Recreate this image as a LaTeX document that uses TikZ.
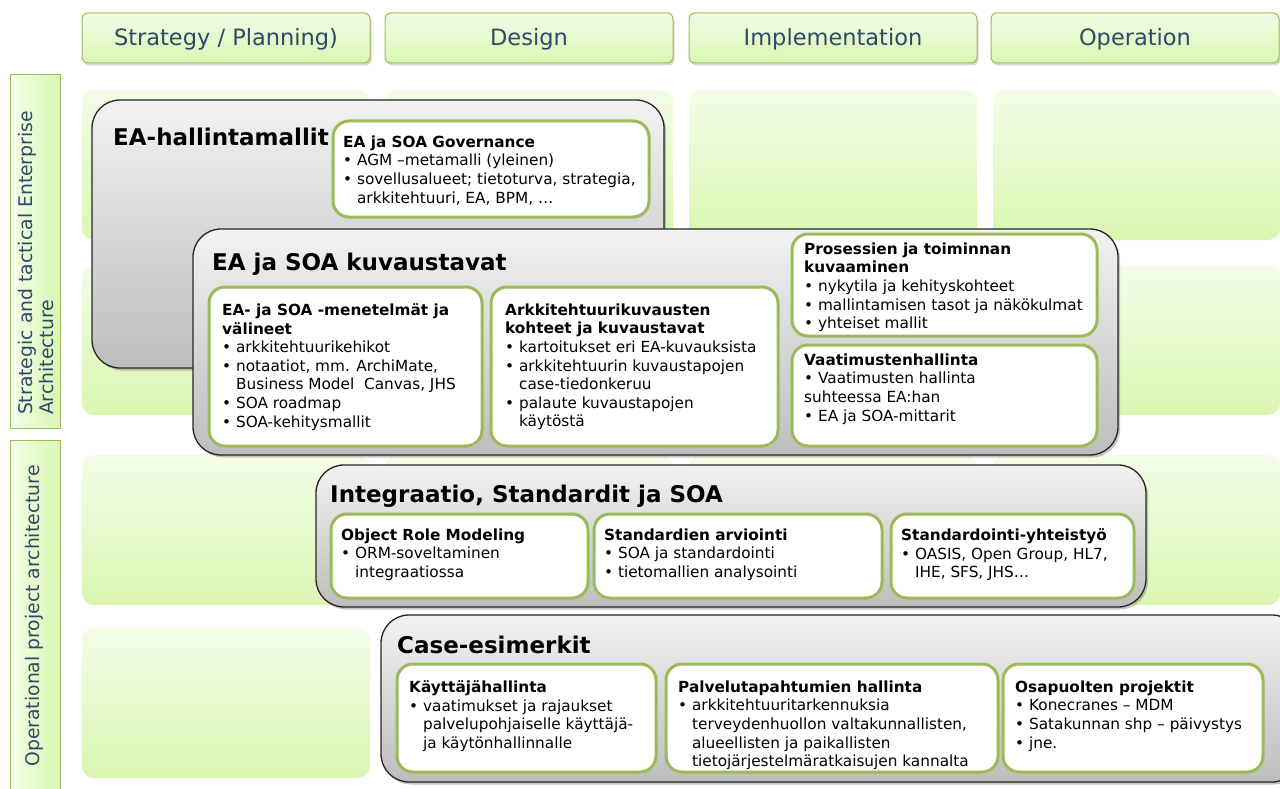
\documentclass[tikz,border=0pt]{standalone}
\usepackage{fontspec}
\setmainfont{DejaVu Sans}
\usetikzlibrary{shadows}
\definecolor{headblue}{HTML}{2F4A68}
\definecolor{leafgreen}{HTML}{9BBB59}
\definecolor{cellhi}{HTML}{F3FDE8}
\definecolor{celllo}{HTML}{D9F6B0}
\definecolor{greyhi}{HTML}{F2F2F2}
\definecolor{greylo}{HTML}{BDBDBD}
\begin{document}
\begin{tikzpicture}[x=1pt,y=-1pt,
  head/.style={draw=leafgreen,line width=1pt,rounded corners=6pt,top color=cellhi,bottom color=celllo,
    drop shadow={shadow xshift=1.5pt,shadow yshift=-2.5pt,opacity=.3},
    minimum width=288pt,minimum height=50pt,text=headblue,text height=17pt,text depth=2pt,
    font=\fontsize{22.5}{26}\selectfont},
  cell/.style={rounded corners=12pt,top color=cellhi,bottom color=celllo},
  side/.style={draw=leafgreen,line width=1pt,left color=cellhi,right color=celllo},
  sidetext/.style={rotate=90,align=left,text=headblue,inner sep=0pt,font=\fontsize{18.8}{21}\selectfont},
  greybox/.style={draw=black!85,line width=1.3pt,rounded corners=28pt,top color=greyhi,bottom color=greylo,
    drop shadow={shadow xshift=2pt,shadow yshift=-2.5pt,opacity=.45}},
  whitebox/.style={draw=leafgreen,line width=3pt,rounded corners=16pt,fill=white},
  bigtitle/.style={anchor=base west,inner sep=0pt,font=\bfseries\fontsize{23}{27}\selectfont},
  boxtext/.style={anchor=north west,inner sep=0pt,align=left,font=\fontsize{15.3}{18.6}\selectfont}]
\useasboundingbox (0,0) rectangle (1280,789);

% phase heads
\node[head] (strat) at (226,38) {Strategy / Planning)};
\node[head] (design) at (529,38) {Design};
\node[head] (impl) at (833,38) {Implementation};
\node[head] (oper) at (1135,38) {Operation};

% row labels
\path[side] (10,75) rectangle (60,428);
\node[sidetext] (strategic) at (36,263) {Strategic and tactical Enterprise\\Architecture};
\path[side] (10,440) rectangle (60,800);
\node[sidetext] (operational) at (34,616) {Operational project architecture};

% background cells
\foreach \xa/\xb in {82/370,385/673,689/977,993/1280}
  \foreach \ya/\yb in {90/240,265/415,455/605,628/778}
    \path[cell] (\xa,\ya) rectangle (\xb,\yb);

% EA-hallintamallit
\path[greybox] (92,100) rectangle (664,368);
\node[bigtitle] (hallinta) at (113,146) {EA-hallintamallit};
\path[whitebox] (333,121) rectangle (649,217);
\node[boxtext] (govtxt) at (343,135.5) {\textbf{EA ja SOA Governance}\\
• AGM –metamalli (yleinen)\\
• sovellusalueet; tietoturva, strategia,\\
\phantom{• }arkkitehtuuri, EA, BPM, …};

% EA ja SOA kuvaustavat
\path[greybox] (193,229) rectangle (1118,455);
\node[bigtitle] (kuvaus) at (212,270) {EA ja SOA kuvaustavat};
\path[whitebox] (209,287) rectangle (482,446);
\node[boxtext] (mentxt) at (222,303.5) {\textbf{EA- ja SOA -menetelmät ja}\\
\textbf{välineet}\\
• arkkitehtuurikehikot\\
• notaatiot, mm. ArchiMate,\\
\phantom{• }Business Model\ \ Canvas, JHS\\
• SOA roadmap\\
• SOA-kehitysmallit};
\path[whitebox] (491,287) rectangle (778,446);
\node[boxtext] (arktxt) at (505,303.5) {\textbf{Arkkitehtuurikuvausten}\\
\textbf{kohteet ja kuvaustavat}\\
• kartoitukset eri EA-kuvauksista\\
• arkkitehtuurin kuvaustapojen\\
\phantom{• }case-tiedonkeruu\\
• palaute kuvaustapojen\\
\phantom{• }käytöstä};
\path[whitebox] (792,234) rectangle (1097,336);
\node[boxtext] (prostxt) at (804,242.5) {\textbf{Prosessien ja toiminnan}\\
\textbf{kuvaaminen}\\
• nykytila ja kehityskohteet\\
• mallintamisen tasot ja näkökulmat\\
• yhteiset mallit};
\path[whitebox] (792,345) rectangle (1097,446);
\node[boxtext] (vaattxt) at (804,353.5) {\textbf{Vaatimustenhallinta}\\
• Vaatimusten hallinta\\
suhteessa EA:han\\
• EA ja SOA-mittarit};

% Integraatio, Standardit ja SOA
\path[greybox] (316,465) rectangle (1146,607);
\node[bigtitle] (integ) at (330,502) {Integraatio, Standardit ja SOA};
\path[whitebox] (331,514) rectangle (588,598);
\node[boxtext] (ormtxt) at (341,528.5) {\textbf{Object Role Modeling}\\
• ORM-soveltaminen\\
\phantom{• }integraatiossa};
\path[whitebox] (594,514) rectangle (882,598);
\node[boxtext] (arvtxt) at (604,528.5) {\textbf{Standardien arviointi}\\
• SOA ja standardointi\\
• tietomallien analysointi};
\path[whitebox] (891,514) rectangle (1134,598);
\node[boxtext] (yhttxt) at (901,528.5) {\textbf{Standardointi-yhteistyö}\\
• OASIS, Open Group, HL7,\\
\phantom{• }IHE, SFS, JHS…};

% Case-esimerkit
\path[greybox] (381,615) rectangle (1300,782);
\node[bigtitle] (cases) at (397,653) {Case-esimerkit};
\path[whitebox] (397,664) rectangle (656,772);
\node[boxtext] (kaytxt) at (409,680.5) {\textbf{Käyttäjähallinta}\\
• vaatimukset ja rajaukset\\
\phantom{• }palvelupohjaiselle käyttäjä-\\
\phantom{• }ja käytönhallinnalle};
\path[whitebox] (666,664) rectangle (998,772);
\node[boxtext] (paltxt) at (678,680.5) {\textbf{Palvelutapahtumien hallinta}\\
• arkkitehtuuritarkennuksia\\
\phantom{• }terveydenhuollon valtakunnallisten,\\
\phantom{• }alueellisten ja paikallisten\\
\phantom{• }tietojärjestelmäratkaisujen kannalta};
\path[whitebox] (1003,664) rectangle (1263,772);
\node[boxtext] (osatxt) at (1015,680.5) {\textbf{Osapuolten projektit}\\
• Konecranes – MDM\\
• Satakunnan shp – päivystys\\
• jne.};
\end{tikzpicture}
\end{document}
